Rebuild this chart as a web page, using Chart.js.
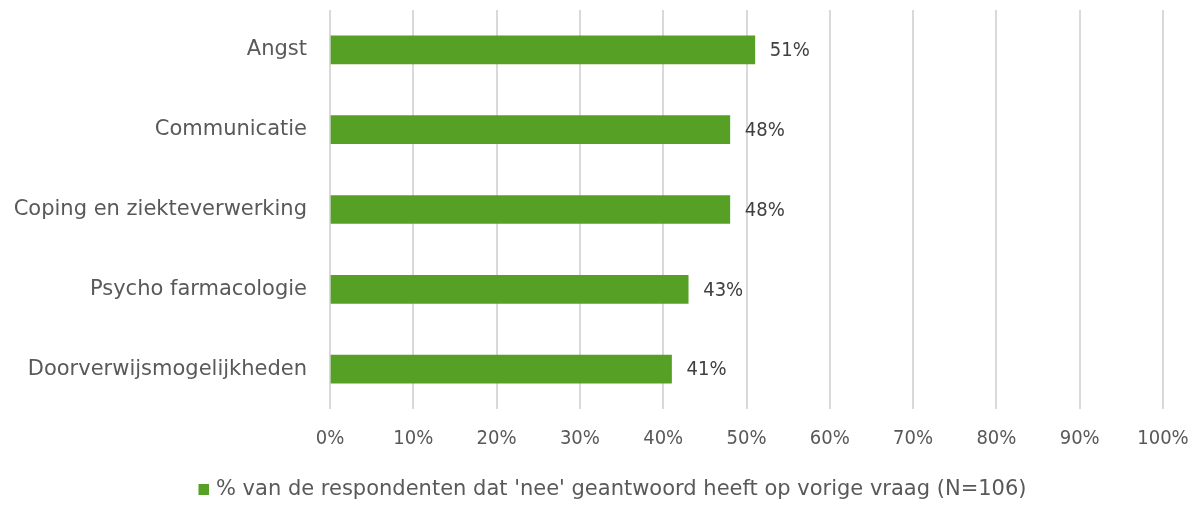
<!DOCTYPE html>
<html>
<head>
<meta charset="utf-8">
<script src="https://cdn.jsdelivr.net/npm/chart.js@4"></script>
<style>
  html, body { margin: 0; padding: 0; background: #ffffff; }
  #wrap { width: 1199px; height: 510px; }
</style>
</head>
<body>
<div id="wrap"><canvas id="chart" width="1199" height="510"></canvas></div>
<script>
// Topics and the share of respondents (%) who answered "nee"
const categories = [
  'Angst',
  'Communicatie',
  'Coping en ziekteverwerking',
  'Psycho farmacologie',
  'Doorverwijsmogelijkheden'
];
const values = [51, 48, 48, 43, 41];
const seriesLabel = "% van de respondenten dat 'nee' geantwoord heeft op vorige vraag (N=106)";
const xTicks = [0, 10, 20, 30, 40, 50, 60, 70, 80, 90, 100];

const TEXT_FONT = "'DejaVu Sans', sans-serif";
const NUM_FONT = "'DejaVu Sans Condensed', 'DejaVu Sans', sans-serif";
const GREEN = '#56A026';

// Legend swatch: an 11px square sitting at the right of a wider transparent canvas,
// so the gap between swatch and text stays tight
const swatch = document.createElement('canvas');
swatch.width = 19;
swatch.height = 11;
(function () {
  const c = swatch.getContext('2d');
  c.fillStyle = GREEN;
  c.fillRect(8, 0, 11, 11);
})();

// Draws the value label just past the end of each bar
const valueLabels = {
  id: 'valueLabels',
  afterDatasetsDraw(chart) {
    const ctx = chart.ctx;
    const meta = chart.getDatasetMeta(0);
    ctx.save();
    ctx.font = '20px ' + NUM_FONT;
    ctx.fillStyle = '#404040';
    ctx.textAlign = 'left';
    ctx.textBaseline = 'middle';
    meta.data.forEach((bar, i) => {
      ctx.fillText(values[i] + '%', bar.x + 15, bar.y + 1);
    });
    ctx.restore();
  }
};

// Nudges the legend row a little to the right of the canvas centre
const legendShift = {
  id: 'legendShift',
  afterLayout(chart) {
    if (chart.legend) {
      chart.legend.left += 11;
      chart.legend.right += 11;
    }
  }
};

new Chart(document.getElementById('chart'), {
  type: 'bar',
  data: {
    labels: categories,
    datasets: [{
      label: seriesLabel,
      data: values,
      backgroundColor: GREEN,
      borderWidth: 0,
      barThickness: 28
    }]
  },
  options: {
    indexAxis: 'y',
    responsive: false,
    animation: false,
    layout: { padding: { top: 10, right: 0, left: 0, bottom: 0 } },
    scales: {
      x: {
        min: 0,
        max: 100,
        afterBuildTicks(scale) { scale.ticks = xTicks.map(v => ({ value: v })); },
        afterFit(scale) {
          scale.height = 58;
          scale.paddingLeft = 0;
          scale.paddingRight = 36;
        },
        grid: { color: '#d9d9d9', lineWidth: 2, drawTicks: false },
        border: { display: false },
        ticks: {
          callback: v => v + '%',
          color: '#595959',
          font: { family: NUM_FONT, size: 20 },
          padding: 18
        }
      },
      y: {
        grid: { display: false, drawTicks: false },
        border: { display: false },
        afterFit(scale) {
          scale.width = 330;
          scale.paddingTop = 0;
          scale.paddingBottom = 0;
        },
        ticks: {
          color: '#595959',
          font: { family: TEXT_FONT, size: 21 },
          padding: 23
        }
      }
    },
    plugins: {
      legend: {
        position: 'bottom',
        labels: {
          usePointStyle: true,
          pointStyle: swatch,
          boxWidth: 11,
          boxHeight: 11,
          color: '#595959',
          font: { family: TEXT_FONT, size: 21 },
          padding: 12
        }
      },
      tooltip: { enabled: false }
    }
  },
  plugins: [valueLabels, legendShift]
});
</script>
</body>
</html>
